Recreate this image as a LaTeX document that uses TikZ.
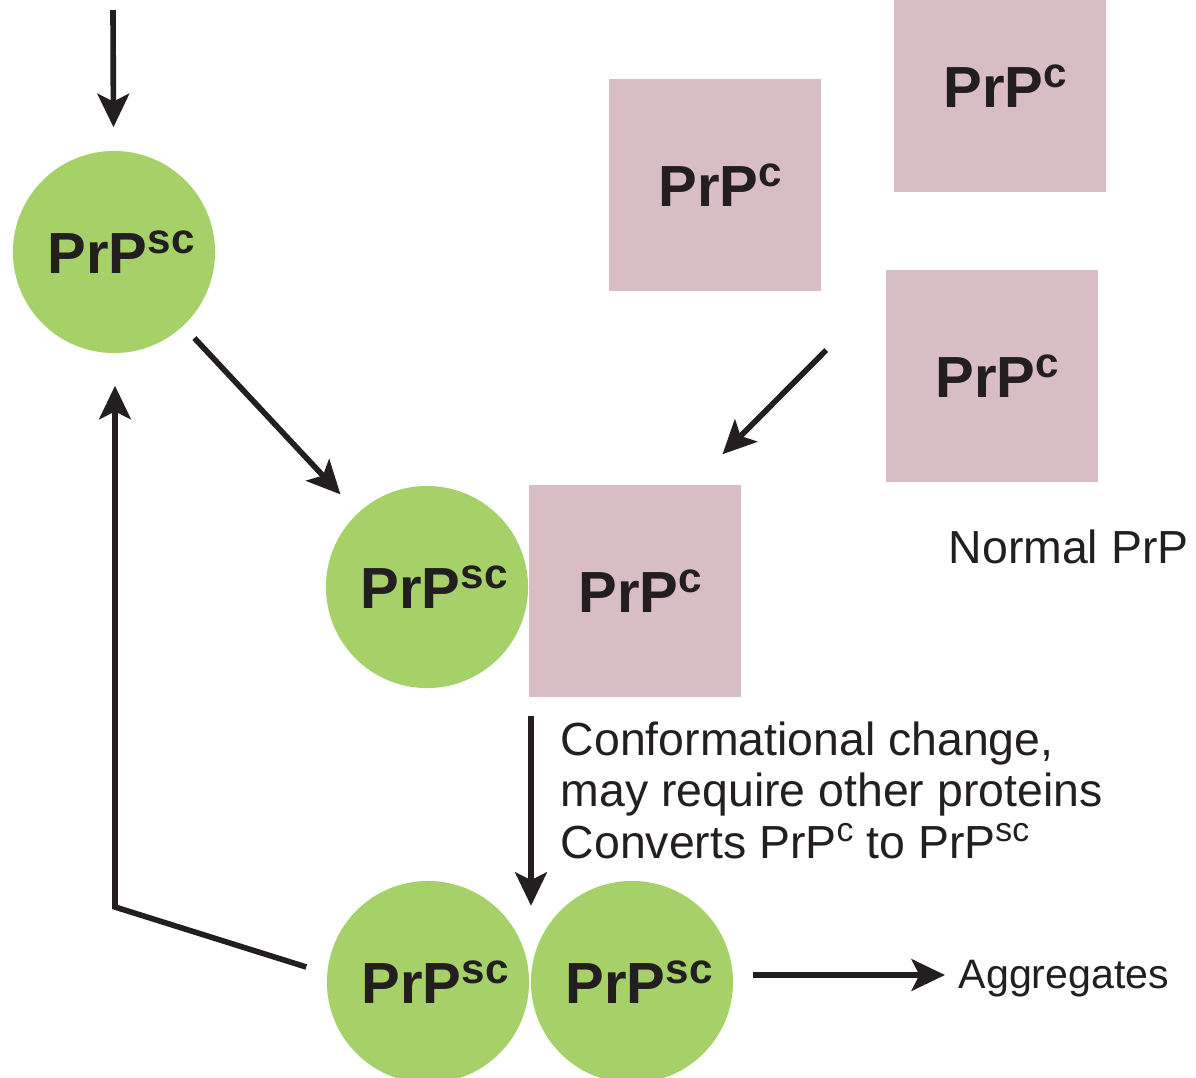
\documentclass[tikz,border=0pt]{standalone}
\usepackage{fontspec}
\setmainfont{Liberation Sans}
\usetikzlibrary{arrows.meta}
\definecolor{scgreen}{RGB}{166,209,104}
\definecolor{cpink}{RGB}{216,190,196}
\definecolor{ink}{RGB}{35,31,32}
% raised superscripts for the labels and for the running text
\newcommand{\bsup}[1]{\raisebox{5.7pt}{\fontsize{12pt}{12pt}\selectfont#1}}
\newcommand{\tsup}[1]{\raisebox{4.6pt}{\fontsize{9.6pt}{9.6pt}\selectfont#1}}
\tikzset{
  prpsc/.style={circle,fill=scgreen,minimum size=2.02cm,inner sep=0pt,text=ink,
    font=\fontsize{16.5pt}{18pt}\selectfont\bfseries,execute at begin node={\hspace*{4pt}}},
  prpc/.style={rectangle,fill=cpink,minimum width=2.12cm,minimum height=2.12cm,inner sep=0pt,text=ink,
    font=\fontsize{16.5pt}{18pt}\selectfont\bfseries,execute at begin node={\hspace*{3pt}}},
  note/.style={inner sep=0pt,text=ink,font=\fontsize{13.2pt}{14.6pt}\selectfont},
  arr/.style={draw=ink,line width=1.6pt,-{Stealth[length=9.5pt,width=9pt,inset=2.2pt]}}
}
\begin{document}
\begin{tikzpicture}[x=0.01cm,y=-0.01cm]
\clip (0,0) rectangle (1196,1078);
\fill[white] (0,0) rectangle (1196,1078);
% prion protein, normal and scrapie forms
\node[prpsc] (sc1) at (114,252) {PrP\bsup{sc}};
\node[prpc] (c1) at (715,185) {PrP\bsup{c}};
\node[prpc] (c2) at (1000,86) {PrP\bsup{c}};
\node[prpc] (c3) at (992,376) {PrP\bsup{c}};
\node[prpsc] (sc2) at (427,587) {PrP\bsup{sc}};
\node[prpc,anchor=west] (c4) at (528,591) {PrP\bsup{c}};
\node[prpsc] (sc3) at (428,982) {PrP\bsup{sc}};
\node[prpsc] (sc4) at (632,982) {PrP\bsup{sc}};
% texts
\node[note,anchor=base west] (normal) at (948,563) {Normal PrP};
\node[note,anchor=north west,align=left] (change) at (560,721)
  {Conformational change,\\may require other proteins\\Converts PrP\tsup{c} to PrP\tsup{sc}};
\node[note,anchor=base west,font=\fontsize{11.7pt}{14pt}\selectfont] (agg) at (958,988) {Aggregates};
% arrows
\coordinate (top) at (113,10);
\coordinate (bend) at (115,907);
\draw[arr,shorten >=0.23cm] (top) -- (sc1);
\draw[arr,shorten <=0.16cm,shorten >=0.25cm] (sc1) -- (sc2);
\draw[arr] ([shift={(-59,-26)}]c3.west) -- ([shift={(-19,-30)}]c4.north east);
\draw[arr] ([shift={(3,18)}]c4.south west) -- ++(0,190);
\draw[arr] ([shift={(-20,-15)}]sc3.west) -- (bend) -- ([shift={(0,32)}]bend |- sc1.south);
\draw[arr,shorten >=0.13cm] ([shift={(19,-7)}]sc4.east) -- ([shift={(0,-7)}]sc4.east -| agg.west);
\end{tikzpicture}
\end{document}
